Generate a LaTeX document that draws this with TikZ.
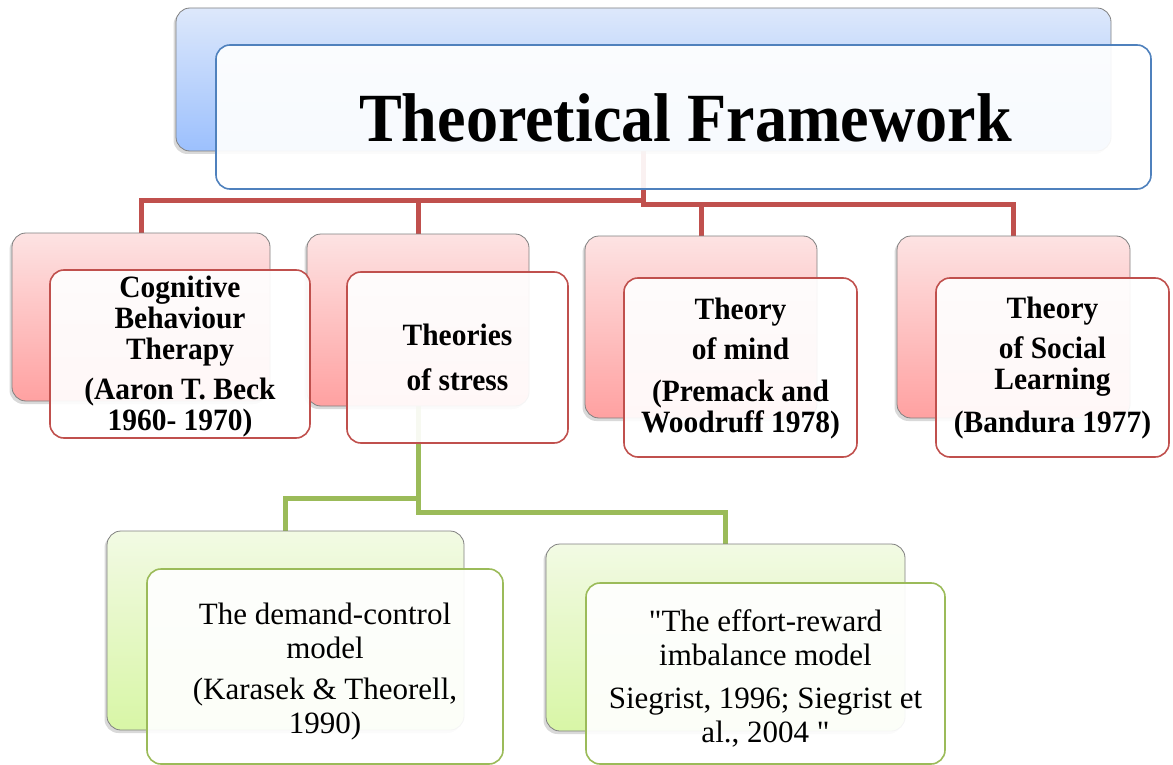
\documentclass[tikz,border=0pt]{standalone}
\usepackage{fontspec}
\setmainfont{Liberation Serif}
% plain family: keeps the straight double quote as typed
\newfontfamily\bodyserif{Liberation Serif}
\newfontfamily\headserif[FakeStretch=0.93]{Liberation Serif}
\newfontfamily\boxserif[FakeStretch=0.95]{Liberation Serif}
\usetikzlibrary{shadows,backgrounds}

\definecolor{linkred}{HTML}{C0504D}
\definecolor{linkgreen}{HTML}{9BBB59}
\definecolor{edgeblue}{HTML}{4F81BD}
\definecolor{blueTop}{HTML}{DDE8FB}
\definecolor{blueBot}{HTML}{9CC0FD}
\definecolor{redTop}{HTML}{FDE3E3}
\definecolor{redBot}{HTML}{FFA1A1}
\definecolor{greenTop}{HTML}{F2FAE4}
\definecolor{greenBot}{HTML}{D8F6A6}

\begin{document}
\begin{tikzpicture}[x=1pt,y=-1pt,
  backbox/.style={draw=black!50, line width=0.8pt, rounded corners=14pt, inner sep=0pt,
    drop shadow={shadow xshift=-2.5pt, shadow yshift=-3pt, opacity=0.3}},
  backblue/.style={backbox, top color=blueTop, bottom color=blueBot},
  backred/.style={backbox, top color=redTop, bottom color=redBot},
  backgreen/.style={backbox, top color=greenTop, bottom color=greenBot},
  frontbox/.style={fill=white, fill opacity=0.92, line width=1.6pt,
    rounded corners=14pt, inner sep=0pt},
  frontblue/.style={frontbox, draw=edgeblue},
  frontred/.style={frontbox, draw=linkred},
  frontgreen/.style={frontbox, draw=linkgreen},
  redtext/.style={align=center, inner sep=0pt, font=\boxserif\bfseries\fontsize{31}{31}\selectfont},
  greentext/.style={align=center, inner sep=0pt, font=\bodyserif\fontsize{31}{34}\selectfont},
  redlink/.style={draw=linkred, line width=5pt},
  greenlink/.style={draw=linkgreen, line width=5pt}
]
\useasboundingbox (0,0) rectangle (1173,765);

% back (shaded) boxes
\node[backblue,  minimum width=935, minimum height=143] (titleback)  at (643.5,79.5) {};
\node[backred,   minimum width=258, minimum height=168] (cbtback)    at (141,317) {};
\node[backred,   minimum width=222, minimum height=172] (stressback) at (418,320) {};
\node[backred,   minimum width=232, minimum height=182] (mindback)   at (701,327) {};
\node[backred,   minimum width=233, minimum height=182] (socialback) at (1013.5,327) {};
\node[backgreen, minimum width=357, minimum height=199] (demandback) at (285.5,630.5) {};
\node[backgreen, minimum width=359, minimum height=187] (effortback) at (725.5,637.5) {};

% elbow connectors, laid under the boxes
\begin{scope}[on background layer]
  \draw[redlink] (titleback.south) -- ++(0,49) -| (cbtback.north);
  \draw[redlink] (titleback.south) ++(0,49) -| (stressback.north);
  \draw[redlink] (titleback.south) -- ++(0,53) -| (socialback.north);
  \draw[redlink] (titleback.south) ++(0,53) -| (mindback.north);
  \draw[greenlink] (stressback.south) -- ++(0,92) -| (demandback.north);
  \draw[greenlink] (stressback.south) -- ++(0,106) -| (effortback.north);
\end{scope}

% front boxes
\node[frontblue,  minimum width=935, minimum height=144] (title)  at (683.5,117) {};
\node[frontred,   minimum width=260, minimum height=168] (cbt)    at (180,354) {};
\node[frontred,   minimum width=221, minimum height=171] (stress) at (457.5,357.5) {};
\node[frontred,   minimum width=233, minimum height=179] (mind)   at (740.5,367.5) {};
\node[frontred,   minimum width=233, minimum height=179] (social) at (1052.5,367.5) {};
\node[frontgreen, minimum width=356, minimum height=195] (demand) at (325,666.5) {};
\node[frontgreen, minimum width=359, minimum height=181] (effort) at (765.5,673.5) {};

% labels
\node[inner sep=0pt, font=\headserif\bfseries\fontsize{69}{69}\selectfont] (titletext)
  at ([xshift=2pt,yshift=-1pt]title.center) {Theoretical Framework};
\node[redtext] (cbttext) at ([yshift=-3pt]cbt.center)
  {Cognitive\\Behaviour\\Therapy\\[9pt](Aaron T. Beck\\1960- 1970)};
\node[redtext] (stresstext) at (stress.center)
  {Theories\\[14pt]of stress};
\node[redtext] (mindtext) at ([yshift=-1pt]mind.center)
  {Theory\\[9pt]of mind\\[11pt](Premack and\\Woodruff 1978)};
\node[redtext] (socialtext) at ([yshift=-1pt]social.center)
  {Theory\\[9pt]of Social\\Learning\\[12pt](Bandura 1977)};
\node[greentext] (demandtext) at ([yshift=-5pt]demand.center)
  {The demand-control\\model\\[7pt](Karasek \& Theorell,\\1990)};
\node[greentext] (efforttext) at ([yshift=-5pt]effort.center)
  {"The effort-reward\\imbalance model\\[9pt]Siegrist, 1996; Siegrist et\\al., 2004 "};
\end{tikzpicture}
\end{document}
